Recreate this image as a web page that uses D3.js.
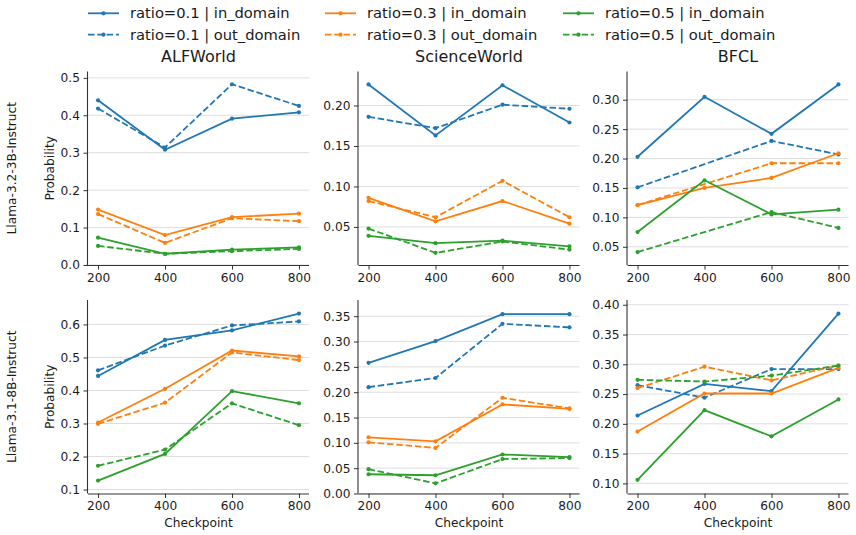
<!DOCTYPE html>
<html>
<head>
<meta charset="utf-8">
<script src="https://cdn.jsdelivr.net/npm/d3@7"></script>
<style>
  html, body { margin: 0; padding: 0; background: #fff; }
  svg { display: block; font-family: "DejaVu Sans", sans-serif; }
</style>
</head>
<body>
<svg id="chart" width="856" height="535"></svg>
<script>
// ---------------- DATA ----------------
const checkpoints = [200, 400, 600, 800];
const xTicks = [200, 400, 600, 800];
const models = ["Llama-3.2-3B-Instruct", "Llama-3.1-8B-Instruct"];
const datasets = ["ALFWorld", "ScienceWorld", "BFCL"];
const ratios = ["0.1", "0.3", "0.5"];
const domains = ["in_domain", "out_domain"];
const seriesColors = ["#1f77b4", "#ff7f0e", "#2ca02c"];

// series order in each panel: r0.1 in, r0.1 out, r0.3 in, r0.3 out, r0.5 in, r0.5 out
const alfworld3B = [
  [0.440, 0.308, 0.391, 0.408],
  [0.418, 0.314, 0.483, 0.425],
  [0.148, 0.080, 0.128, 0.137],
  [0.136, 0.059, 0.125, 0.117],
  [0.073, 0.030, 0.041, 0.047],
  [0.051, 0.030, 0.037, 0.043]
];
const scienceworld3B = [
  [0.226, 0.163, 0.225, 0.179],
  [0.186, 0.172, 0.201, 0.196],
  [0.086, 0.057, 0.082, 0.054],
  [0.082, 0.062, 0.107, 0.062],
  [0.039, 0.030, 0.033, 0.026],
  [0.048, 0.018, 0.032, 0.022]
];
const bfcl3B = [
  [0.203, 0.305, 0.242, 0.326],
  [0.151, null, 0.230, 0.207],
  [0.121, 0.150, 0.167, 0.209],
  [0.121, null, 0.192, 0.192],
  [0.075, 0.163, 0.105, 0.113],
  [0.041, null, 0.109, 0.082]
];
const alfworld8B = [
  [0.444, 0.553, 0.582, 0.633],
  [0.461, 0.536, 0.597, 0.609],
  [0.303, 0.405, 0.521, 0.503],
  [0.299, 0.363, 0.515, 0.492],
  [0.127, 0.208, 0.398, 0.361],
  [0.172, 0.221, 0.361, 0.295]
];
const scienceworld8B = [
  [0.258, 0.301, 0.354, 0.354],
  [0.210, 0.228, 0.335, 0.328],
  [0.111, 0.103, 0.176, 0.167],
  [0.101, 0.090, 0.189, 0.168],
  [0.038, 0.036, 0.077, 0.072],
  [0.048, 0.020, 0.068, 0.070]
];
const bfcl8B = [
  [0.214, 0.267, 0.255, 0.385],
  [0.265, 0.244, 0.292, 0.292],
  [0.187, 0.251, 0.251, 0.294],
  [0.260, 0.296, 0.273, 0.298],
  [0.106, 0.223, 0.179, 0.241],
  [0.274, 0.271, 0.281, 0.298]
];

const yTicksAlf3B = [0.0, 0.1, 0.2, 0.3, 0.4, 0.5];
const yTicksSci3B = [0.05, 0.10, 0.15, 0.20];
const yTicksBfcl3B = [0.05, 0.10, 0.15, 0.20, 0.25, 0.30];
const yTicksAlf8B = [0.1, 0.2, 0.3, 0.4, 0.5, 0.6];
const yTicksSci8B = [0.00, 0.05, 0.10, 0.15, 0.20, 0.25, 0.30, 0.35];
const yTicksBfcl8B = [0.10, 0.15, 0.20, 0.25, 0.30, 0.35, 0.40];

const yDomAlf3B = [0.0, 0.517];
const yDomSci3B = [0.003, 0.242];
const yDomBfcl3B = [0.019, 0.348];
const yDomAlf8B = [0.088, 0.674];
const yDomSci8B = [0.0, 0.382];
const yDomBfcl8B = [0.083, 0.408];

// ---------------- LAYOUT ----------------
const svg = d3.select("#chart");
const colLeft = [88, 358.5, 627.5];
const panelW = 221;
const rowTop = [71.5, 300];
const panelH = 193.5;

const panels = [
  { r: 0, c: 0, data: alfworld3B, ticks: yTicksAlf3B, dom: yDomAlf3B, fmt: ".1f" },
  { r: 0, c: 1, data: scienceworld3B, ticks: yTicksSci3B, dom: yDomSci3B, fmt: ".2f" },
  { r: 0, c: 2, data: bfcl3B, ticks: yTicksBfcl3B, dom: yDomBfcl3B, fmt: ".2f" },
  { r: 1, c: 0, data: alfworld8B, ticks: yTicksAlf8B, dom: yDomAlf8B, fmt: ".1f" },
  { r: 1, c: 1, data: scienceworld8B, ticks: yTicksSci8B, dom: yDomSci8B, fmt: ".2f" },
  { r: 1, c: 2, data: bfcl8B, ticks: yTicksBfcl8B, dom: yDomBfcl8B, fmt: ".2f" }
];

const tickFont = 12.2;
const labelFont = 12.2;
const textColor = "#1a1a1a";

panels.forEach(p => {
  const x0 = colLeft[p.c], y0 = rowTop[p.r];
  const g = svg.append("g").attr("transform", `translate(${x0},${y0})`);
  const x = d3.scaleLinear().domain([170, 830]).range([0, panelW]);
  const y = d3.scaleLinear().domain(p.dom).range([panelH, 0]);

  // grid
  g.append("g").selectAll("line").data(p.ticks).join("line")
    .attr("x1", 0).attr("x2", panelW)
    .attr("y1", d => y(d)).attr("y2", d => y(d))
    .attr("stroke", "#dedede").attr("stroke-width", 1);

  // lines
  p.data.forEach((vals, i) => {
    const color = seriesColors[Math.floor(i / 2)];
    const dashed = i % 2 === 1;
    const pts = checkpoints.map((c, k) => ({ c, v: vals[k] })).filter(d => d.v !== null);
    const line = d3.line().x(d => x(d.c)).y(d => y(d.v));
    g.append("path").datum(pts)
      .attr("d", line)
      .attr("fill", "none")
      .attr("stroke", color)
      .attr("stroke-width", 1.8)
      .attr("stroke-dasharray", dashed ? "6.5,2.8" : null);
    g.append("g").selectAll("circle").data(pts).join("circle")
      .attr("cx", d => x(d.c)).attr("cy", d => y(d.v)).attr("r", 2.1)
      .attr("fill", color);
  });

  // axes
  const xAxis = d3.axisBottom(x).tickValues(xTicks).tickSize(4.5).tickPadding(3.5).tickFormat(d3.format("d"));
  const yAxis = d3.axisLeft(y).tickValues(p.ticks).tickSize(4.5).tickPadding(3.5).tickFormat(d3.format(p.fmt));
  const gx = g.append("g").attr("transform", `translate(0,${panelH})`).call(xAxis);
  const gy = g.append("g").call(yAxis);
  [gx, gy].forEach(a => {
    a.select(".domain").attr("stroke", "#333").attr("stroke-width", 1.1);
    a.selectAll(".tick line").attr("stroke", "#333").attr("stroke-width", 1);
    a.selectAll(".tick text").attr("fill", textColor)
      .style("font-family", "DejaVu Sans").style("font-size", tickFont + "px");
  });
  gx.select(".domain").attr("d", `M0,0.5H${panelW}`);
  gy.select(".domain").attr("d", `M-0.5,${panelH}V0`);

  if (p.r === 0) {
    g.append("text").attr("x", panelW / 2).attr("y", -10)
      .attr("text-anchor", "middle").attr("fill", textColor)
      .style("font-size", "16px").text(datasets[p.c]);
  }
  if (p.r === 1) {
    g.append("text").attr("x", panelW / 2).attr("y", panelH + 33)
      .attr("text-anchor", "middle").attr("fill", textColor)
      .style("font-size", labelFont + "px").text("Checkpoint");
  }
  if (p.c === 0) {
    g.append("text")
      .attr("transform", `translate(${50 - x0 + 4},${panelH / 2}) rotate(-90)`)
      .attr("text-anchor", "middle").attr("fill", textColor)
      .style("font-size", labelFont + "px").text("Probability");
    g.append("text")
      .attr("transform", `translate(${12 - x0 + 4},${panelH / 2}) rotate(-90)`)
      .attr("text-anchor", "middle").attr("fill", textColor)
      .style("font-size", labelFont + "px").text(models[p.r]);
  }
});

// ---------------- LEGEND ----------------
const legendCols = [88, 325, 563];
const legendRows = [13.3, 34.7];
ratios.forEach((r, ci) => {
  domains.forEach((dm, ri) => {
    const lg = svg.append("g").attr("transform", `translate(${legendCols[ci]},${legendRows[ri]})`);
    lg.append("line").attr("x1", 0).attr("x2", 31).attr("y1", 0).attr("y2", 0)
      .attr("stroke", seriesColors[ci]).attr("stroke-width", 1.8)
      .attr("stroke-dasharray", ri === 1 ? "6.5,2.8" : null);
    lg.append("circle").attr("cx", 15.5).attr("cy", 0).attr("r", 2.1).attr("fill", seriesColors[ci]);
    lg.append("text").attr("x", 42).attr("y", 0).attr("dy", "0.35em")
      .attr("fill", textColor).style("font-size", "14.7px")
      .text(`ratio=${r} | ${dm}`);
  });
});
</script>
</body>
</html>
